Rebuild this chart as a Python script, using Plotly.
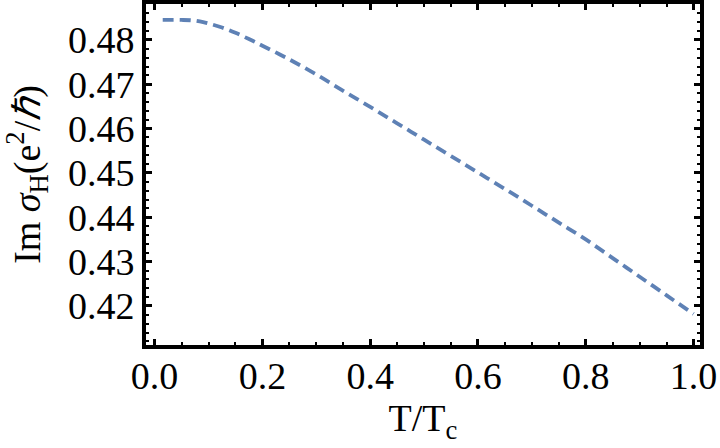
import plotly.graph_objects as go

T = [0.015, 0.03, 0.05, 0.07, 0.09, 0.1, 0.125, 0.15, 0.175, 0.2, 0.25, 0.3, 0.35, 0.4, 0.45, 0.5,
     0.55, 0.6, 0.65, 0.7, 0.75, 0.8, 0.85, 0.9, 0.95, 1.0]
sigma_im = [0.4845, 0.4845, 0.4845, 0.4844, 0.4840, 0.4837, 0.4828, 0.4816, 0.4802, 0.4787, 0.4756,
            0.4722, 0.4685, 0.4649, 0.4612, 0.4575, 0.4538, 0.4501, 0.4464, 0.4426, 0.4388, 0.4350,
            0.4308, 0.4266, 0.4224, 0.4182]

x_ticks = [0.0, 0.2, 0.4, 0.6, 0.8, 1.0]
x_ticklabels = ["0.0", "0.2", "0.4", "0.6", "0.8", "1.0"]
y_ticks = [0.42, 0.43, 0.44, 0.45, 0.46, 0.47, 0.48]
y_ticklabels = ["0.42", "0.43", "0.44", "0.45", "0.46", "0.47", "0.48"]

FONT = "Liberation Serif, Times New Roman, serif"

fig = go.Figure()
fig.add_trace(go.Scatter(
    x=T, y=sigma_im, mode="lines",
    line=dict(color="#5E81B5", width=3.8, dash="11px,6px", shape="spline"),
    showlegend=False,
))

axis_common = dict(
    showline=True, linecolor="black", linewidth=4, mirror="allticks",
    ticks="inside", ticklen=6, tickwidth=3, tickcolor="black",
    showgrid=False, zeroline=False, automargin=False,
    tickfont=dict(family=FONT, size=38, color="black"),
)

fig.update_xaxes(
    range=[-0.016, 1.012], tickvals=x_ticks, ticktext=x_ticklabels,
    minor=dict(ticks="inside", ticklen=3, tickwidth=2, tickcolor="black", dtick=0.05, showgrid=False),
    ticklabelstandoff=-6,
    title=dict(text="T/T<sub>c</sub>", font=dict(family=FONT, size=38, color="black"), standoff=4),
    **axis_common,
)
fig.update_yaxes(
    range=[0.4112, 0.4881], tickvals=y_ticks, ticktext=y_ticklabels,
    minor=dict(ticks="inside", ticklen=3, tickwidth=2, tickcolor="black", dtick=0.002, showgrid=False),
    title=dict(text="Im <i>σ</i><sub>H</sub>(e<sup>2</sup>/<i>ℏ</i>)",
               font=dict(family=FONT, size=38, color="black"), standoff=24),
    **axis_common,
)

fig.update_layout(
    width=720, height=448,
    margin=dict(l=146, r=20, t=4, b=103),
    paper_bgcolor="white", plot_bgcolor="white",
)

fig.write_html("out.html", config={"displayModeBar": False},
               post_script="document.body.style.margin='0';")
